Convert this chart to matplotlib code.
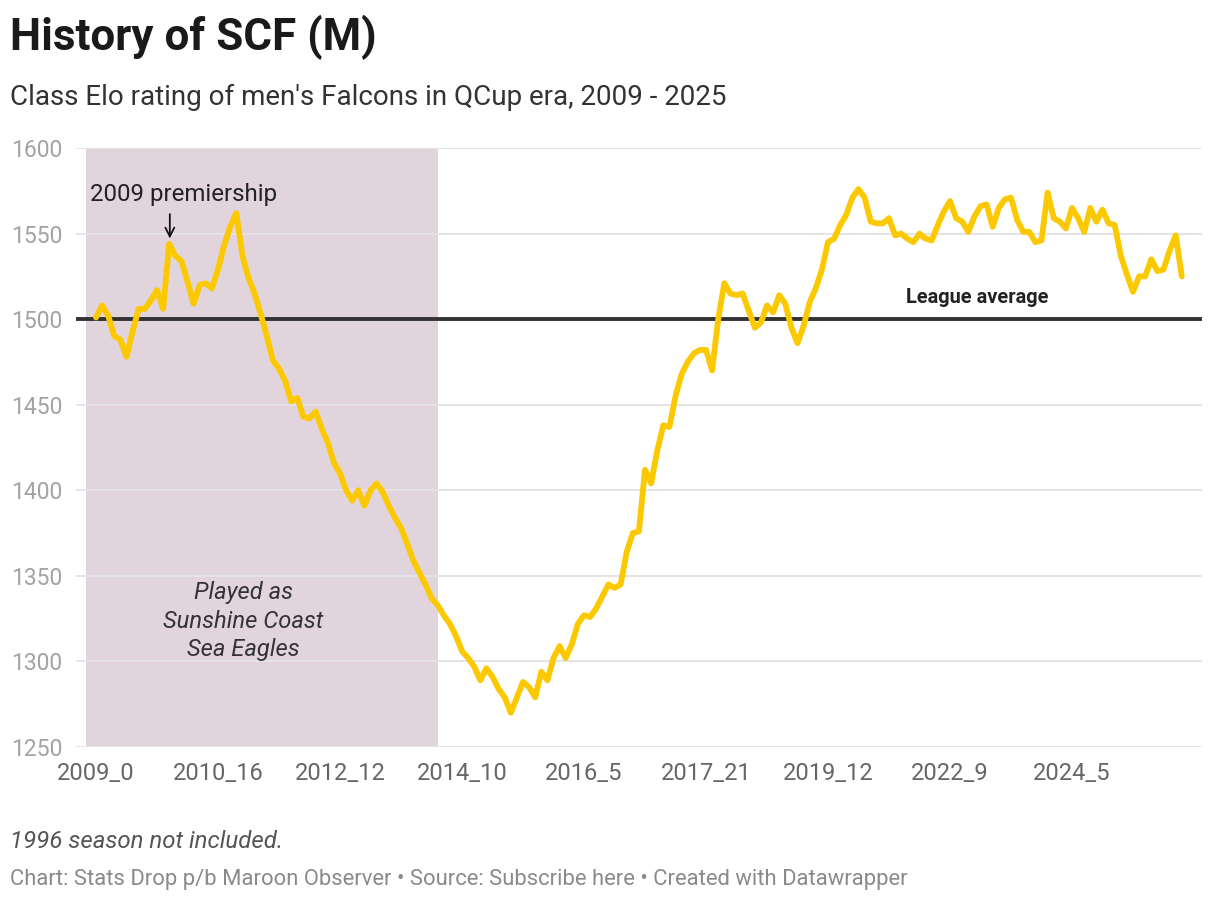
import matplotlib.pyplot as plt
import numpy as np

# Elo rating, one value every two rounds, 2009 -> 2025
rating = [
    1501, 1508, 1502, 1490, 1488, 1478, 1493, 1506, 1506, 1511,
    1517, 1506, 1544, 1537, 1534, 1522, 1509, 1520, 1521, 1518,
    1529, 1543, 1554, 1562, 1537, 1524, 1515, 1503, 1490, 1476,
    1471, 1464, 1452, 1454, 1443, 1442, 1446, 1436, 1428, 1416,
    1410, 1400, 1394, 1400, 1391, 1400, 1404, 1399, 1391, 1384,
    1378, 1369, 1359, 1352, 1345, 1337, 1333, 1327, 1322, 1315,
    1306, 1302, 1297, 1289, 1296, 1291, 1284, 1279, 1270, 1279,
    1288, 1285, 1279, 1294, 1289, 1302, 1309, 1302, 1310, 1322,
    1327, 1326, 1331, 1338, 1345, 1343, 1345, 1364, 1375, 1376,
    1412, 1404, 1423, 1438, 1437, 1455, 1468, 1475, 1480, 1482,
    1482, 1470, 1500, 1521, 1515, 1514, 1515, 1505, 1495, 1498,
    1508, 1504, 1514, 1509, 1495, 1486, 1496, 1510, 1518, 1529,
    1545, 1547, 1555, 1561, 1571, 1576, 1571, 1557, 1556, 1556,
    1559, 1549, 1550, 1547, 1545, 1550, 1547, 1546, 1555, 1563,
    1569, 1559, 1557, 1551, 1560, 1566, 1567, 1554, 1565, 1570,
    1571, 1558, 1551, 1551, 1545, 1546, 1574, 1559, 1557, 1553,
    1565, 1559, 1551, 1565, 1557, 1564, 1556, 1555, 1537, 1526,
    1516, 1525, 1525, 1535, 1528, 1529, 1540, 1549, 1525,
]
tick_labels = ['2009_0', '2010_16', '2012_12', '2014_10', '2016_5',
               '2017_21', '2019_12', '2022_9', '2024_5']
tick_step = 20
y_ticks = [1250, 1300, 1350, 1400, 1450, 1500, 1550, 1600]
league_avg = 1500

plt.rcParams['font.family'] = ['Roboto', 'DejaVu Sans']

fig = plt.figure(figsize=(12.2, 9.02), dpi=100)
ax = fig.add_axes([0.0623, 0.1718, 0.9229, 0.6641])

x = np.arange(len(rating))

# Sunshine Coast era shading
ax.axvspan(-1.64, 56.07, color='#e2d4dc', zorder=0, lw=0)

for yt in y_ticks:
    if yt != league_avg:
        ax.axhline(yt, color='#e4e4e4', lw=1.4, zorder=1)
ax.axhline(league_avg, color='#333333', lw=2.8, zorder=2)

ax.plot(x, rating, color='#fcc900', lw=4.2, solid_joinstyle='round',
        solid_capstyle='round', zorder=3)

ax.set_xlim(-3.28, 181.3)
ax.set_ylim(1250, 1600)
ax.set_yticks(y_ticks)
ax.set_yticklabels([str(v) for v in y_ticks])
ax.set_xticks(np.arange(len(tick_labels)) * tick_step)
ax.set_xticklabels(tick_labels)
ax.tick_params(axis='y', length=0, pad=10, labelsize=16.5, labelcolor='#a3a3a3')
ax.tick_params(axis='x', length=0, pad=11, labelsize=17, labelcolor='#666666')
for s in ax.spines.values():
    s.set_visible(False)

# annotations
ax.text(-1.0, 1573, '2009 premiership', fontsize=17.3, color='#222222',
        ha='left', va='center')
ax.annotate('', xy=(12.1, 1545.5), xytext=(12.1, 1563),
            arrowprops=dict(arrowstyle='->', lw=1.3, color='#111111',
                            mutation_scale=16))
ax.text(144.4, 1512.5, 'League average', fontsize=14.4, fontweight='bold',
        color='#222222', ha='center', va='center')
ax.text(24.1, 1323.5, 'Played as\nSunshine Coast\nSea Eagles', fontsize=17.1,
        style='italic', color='#333333', ha='center', va='center',
        linespacing=1.3)

# titles and footer
fig.text(10 / 1220, 1 - 37 / 902, 'History of SCF (M)', fontsize=31.7,
         fontweight='bold', color='#1a1a1a', ha='left', va='center')
fig.text(10 / 1220, 1 - 97 / 902,
         "Class Elo rating of men's Falcons in QCup era, 2009 - 2025",
         fontsize=20, color='#333333', ha='left', va='center')
fig.text(10 / 1220, 1 - 842 / 902, '1996 season not included.', fontsize=17.3,
         style='italic', color='#555555', ha='left', va='center')
fig.text(10 / 1220, 1 - 879 / 902,
         'Chart: Stats Drop p/b Maroon Observer \u2022 Source: Subscribe here '
         '\u2022 Created with Datawrapper',
         fontsize=15.8, color='#8a8a8a', ha='left', va='center')

fig.savefig('out.png', dpi=100)
